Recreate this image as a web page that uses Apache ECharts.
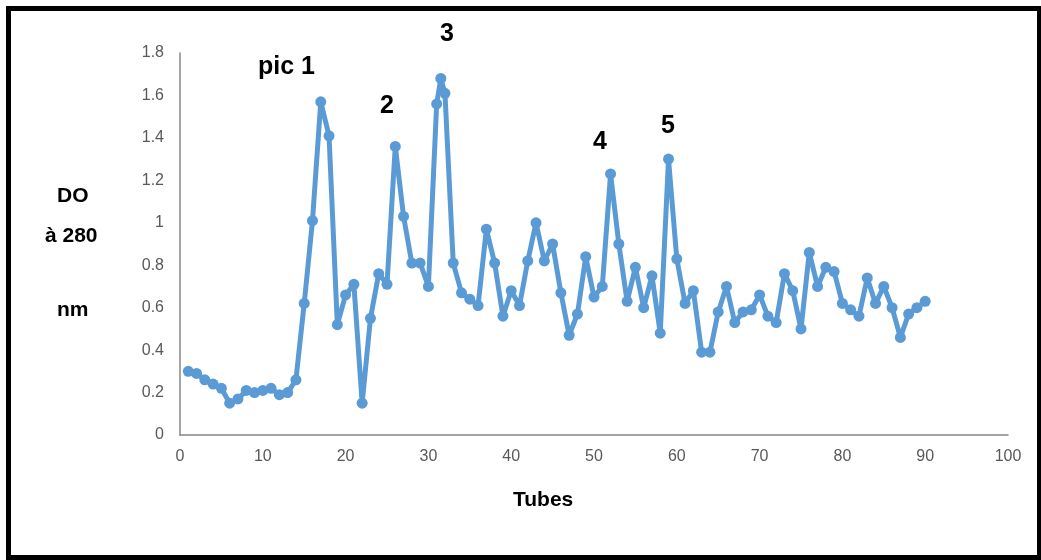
<!DOCTYPE html>
<html>
<head>
<meta charset="utf-8">
<script src="https://cdn.jsdelivr.net/npm/echarts@6/dist/echarts.min.js"></script>
<style>
  html, body { margin: 0; padding: 0; background: #fff; }
  #frame { position: absolute; left: 6px; top: 6px; width: 1026px; height: 544px; border: 5px solid #000; }
  #main { position: absolute; left: 0; top: 0; width: 1041px; height: 560px; }
</style>
</head>
<body>
<div id="frame"></div>
<div id="main"></div>
<script>
// tubes (x) and absorbance DO à 280 nm (y)
var tubes = [1,2,3,4,5,6,7,8,9,10,11,12,13,14,15,16,17,18,19,20,
  21,22,23,24,25,26,27,28,29,30,31,31.5,32,33,34,35,36,37,38,39,40,
  41,42,43,44,45,46,47,48,49,50,51,52,53,54,55,56,57,58,59,60,
  61,62,63,64,65,66,67,68,69,70,71,72,73,74,75,76,77,78,79,80,
  81,82,83,84,85,86,87,88,89,90];
var absorbance = [0.30,0.29,0.26,0.24,0.22,0.15,0.17,0.21,0.20,0.21,0.22,0.19,0.20,0.26,0.62,1.01,1.57,1.41,0.52,0.66,
  0.71,0.15,0.55,0.76,0.71,1.36,1.03,0.81,0.81,0.70,1.56,1.68,1.61,0.81,0.67,0.64,0.61,0.97,0.81,0.56,0.68,
  0.61,0.82,1.00,0.82,0.90,0.67,0.47,0.57,0.84,0.65,0.70,1.23,0.90,0.63,0.79,0.60,0.75,0.48,1.30,0.83,
  0.62,0.68,0.39,0.39,0.58,0.70,0.53,0.58,0.59,0.66,0.56,0.53,0.76,0.68,0.50,0.86,0.70,0.79,0.77,0.62,
  0.59,0.56,0.74,0.62,0.70,0.60,0.46,0.57,0.60,0.63];
var peakLabels = ['pic 1', '2', '3', '4', '5'];

var myChart = echarts.init(document.getElementById('main'));

var points = [];
for (var i = 0; i < tubes.length; i++) {
  points.push([tubes[i], absorbance[i]]);
}

var labelFont = 'Liberation Sans Narrow, Liberation Sans, sans-serif';
var boldFont = 'Liberation Sans, Arial, sans-serif';

var option = {
  backgroundColor: 'transparent',
  animation: false,
  grid: { left: 180, right: 33, top: 53, bottom: 125 },
  xAxis: {
    type: 'value',
    min: 0,
    max: 100,
    interval: 10,
    axisLine: { show: true, lineStyle: { color: '#868686', width: 1.5 } },
    axisTick: { show: false },
    splitLine: { show: false },
    axisLabel: { color: '#595959', fontSize: 16, fontFamily: labelFont, margin: 14 }
  },
  yAxis: {
    type: 'value',
    min: 0,
    max: 1.8,
    interval: 0.2,
    axisLine: { show: true, lineStyle: { color: '#868686', width: 1.5 } },
    axisTick: { show: false },
    splitLine: { show: false },
    axisLabel: { color: '#595959', fontSize: 16, fontFamily: labelFont, margin: 16 }
  },
  graphic: [
    { type: 'text', left: 513, top: 490, style: { text: 'Tubes', font: 'bold 21px ' + boldFont, fill: '#000' } },
    { type: 'text', left: 57, top: 186, style: { text: 'DO', font: 'bold 21px ' + boldFont, fill: '#000' } },
    { type: 'text', left: 45, top: 226, style: { text: 'à 280', font: 'bold 21px ' + boldFont, fill: '#000' } },
    { type: 'text', left: 57, top: 300, style: { text: 'nm', font: 'bold 21px ' + boldFont, fill: '#000' } },
    { type: 'text', left: 258, top: 55, style: { text: peakLabels[0], font: 'bold 25px ' + boldFont, fill: '#000' } },
    { type: 'text', left: 380, top: 94, style: { text: peakLabels[1], font: 'bold 25px ' + boldFont, fill: '#000' } },
    { type: 'text', left: 440, top: 22, style: { text: peakLabels[2], font: 'bold 25px ' + boldFont, fill: '#000' } },
    { type: 'text', left: 593, top: 130, style: { text: peakLabels[3], font: 'bold 25px ' + boldFont, fill: '#000' } },
    { type: 'text', left: 661, top: 114, style: { text: peakLabels[4], font: 'bold 25px ' + boldFont, fill: '#000' } }
  ],
  series: [
    {
      type: 'line',
      data: points,
      symbol: 'circle',
      symbolSize: 11,
      showAllSymbol: true,
      lineStyle: { color: '#5B9BD5', width: 5 },
      itemStyle: { color: '#5B9BD5' }
    }
  ]
};

myChart.setOption(option);
</script>
</body>
</html>
